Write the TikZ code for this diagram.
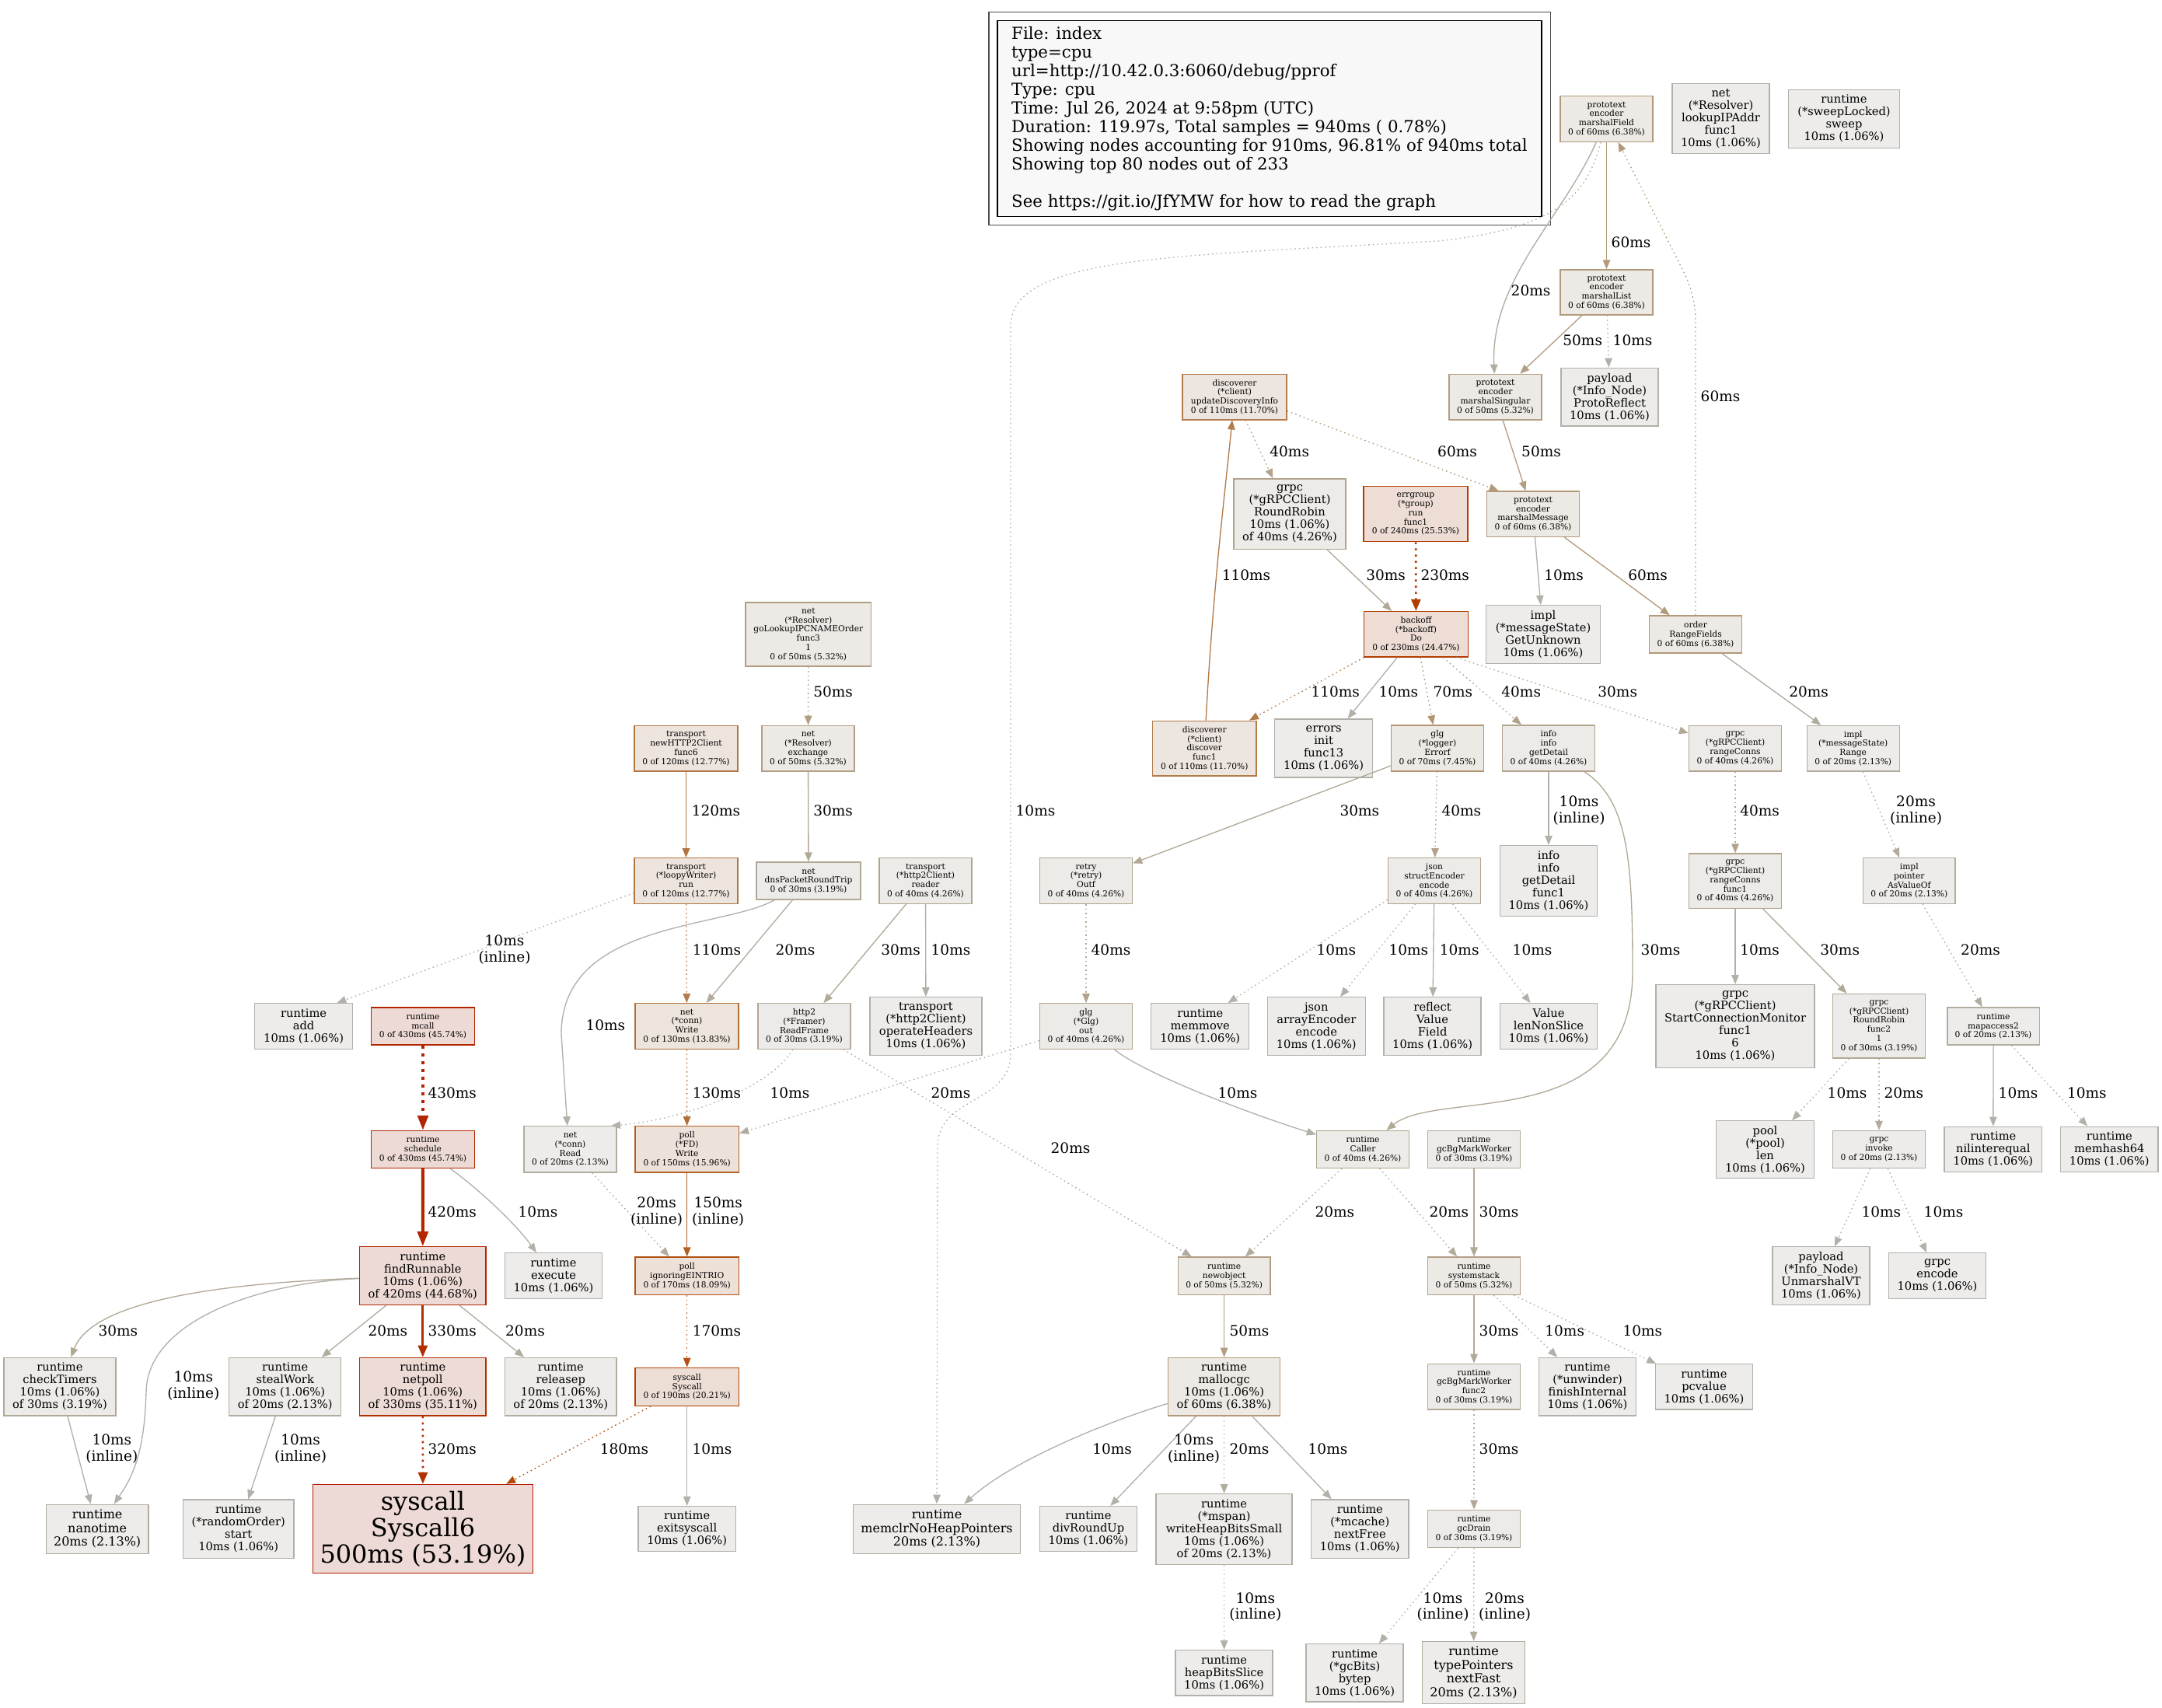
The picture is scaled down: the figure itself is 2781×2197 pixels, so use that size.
\documentclass[tikz,border=0pt]{standalone}
\usepackage{fontspec}
\setmainfont{DejaVu Serif}
\usepackage{tikz}
\usetikzlibrary{arrows.meta}

\definecolor{fg10}{RGB}{178,176,169}
\definecolor{fg20}{RGB}{178,172,159}
\definecolor{fg30}{RGB}{178,168,150}
\definecolor{fg40}{RGB}{178,163,140}
\definecolor{fg50}{RGB}{178,158,131}
\definecolor{fg60}{RGB}{178,153,121}
\definecolor{fg70}{RGB}{178,148,112}
\definecolor{fg110}{RGB}{178,123,74}
\definecolor{fg120}{RGB}{178,117,64}
\definecolor{fg130}{RGB}{178,110,55}
\definecolor{fg150}{RGB}{178,96,36}
\definecolor{fg170}{RGB}{178,81,17}
\definecolor{fg180}{RGB}{178,74,7}
\definecolor{fg190}{RGB}{178,68,0}
\definecolor{fg230}{RGB}{178,61,0}
\definecolor{fg240}{RGB}{178,60,0}
\definecolor{fg320}{RGB}{178,49,0}
\definecolor{fg330}{RGB}{178,48,0}
\definecolor{fg420}{RGB}{178,38,0}
\definecolor{fg430}{RGB}{178,37,0}
\definecolor{fg500}{RGB}{178,30,0}
\definecolor{bg10}{RGB}{237,236,235}
\definecolor{bg20}{RGB}{237,236,234}
\definecolor{bg30}{RGB}{237,235,233}
\definecolor{bg40}{RGB}{237,235,232}
\definecolor{bg50}{RGB}{237,234,230}
\definecolor{bg60}{RGB}{237,233,229}
\definecolor{bg70}{RGB}{237,233,228}
\definecolor{bg110}{RGB}{237,229,223}
\definecolor{bg120}{RGB}{237,228,222}
\definecolor{bg130}{RGB}{237,228,220}
\definecolor{bg150}{RGB}{237,226,218}
\definecolor{bg170}{RGB}{237,224,215}
\definecolor{bg190}{RGB}{237,222,213}
\definecolor{bg230}{RGB}{237,221,213}
\definecolor{bg240}{RGB}{237,221,213}
\definecolor{bg330}{RGB}{237,219,213}
\definecolor{bg420}{RGB}{237,218,213}
\definecolor{bg430}{RGB}{237,218,213}
\definecolor{bg500}{RGB}{237,217,213}
\definecolor{legendbg}{RGB}{248,248,248}

\begin{document}
\begin{tikzpicture}[x=1pt, y=-1pt,
    fn/.style={rectangle, line width=1.3pt, inner sep=0pt, align=center},
    nd/.style={fn, fill=bg#1, draw=fg#1},
    sz/.style 2 args={minimum width=#1, minimum height=#2},
    f0/.style={font=\fontsize{10.67}{11.8}\selectfont},
    fa/.style={font=\fontsize{14.67}{16}\selectfont},
    fb/.style={font=\fontsize{16}{17.6}\selectfont},
    fc/.style={font=\fontsize{32}{34.1}\selectfont},
    call/.style={draw=fg#1, line width=1.33pt, -{Triangle[length=12pt,width=9.5pt]}},
    resid/.style={dash pattern=on 1.6pt off 4pt},
    pw2/.style={line width=2.67pt, -{Triangle[length=15pt,width=12pt]}},
    pw3/.style={line width=4pt, -{Triangle[length=19pt,width=13.5pt]}},
    lbl/.style={font=\fontsize{18.5}{20.3}\selectfont, align=center, inner sep=0pt}
]
\fill[white] (0,0) rectangle (2781,2197);
\useasboundingbox (0,0) rectangle (2781,2197);

\node[draw=black, fill=legendbg, line width=1.3pt, align=left, inner sep=0pt,
      minimum width=700, minimum height=251.5, font=\fontsize{21.3}{24.07}\selectfont]
  (legend) at (1633,152.6) {File: index\\type=cpu\\url=http://10.42.0.3:6060/debug/pprof\\Type: cpu\\Time: Jul 26, 2024 at 9:58pm (UTC)\\Duration: 119.97s, Total samples = 940ms ( 0.78\%)\\Showing nodes accounting for 910ms, 96.81\% of 940ms total\\Showing top 80 nodes out of 233\\\mbox{}\\See https://git.io/JfYMW for how to read the graph};
\draw[line width=1.3pt, draw=black!70] ([xshift=-10.5pt,yshift=11pt]legend.north west) rectangle ([xshift=10.5pt,yshift=-10.5pt]legend.south east);

\node[nd=60, f0, sz={119}{58.5}] (pfField) at (2066.5,153) {prototext\\encoder\\marshalField\\0 of 60ms (6.38\%)};
\node[nd=10, fa, sz={125}{90}] (lookupIP) at (2213.5,152.7) {net\\(*Resolver)\\lookupIPAddr\\func1\\10ms (1.06\%)};
\node[nd=10, fa, sz={142.4}{75}] (sweep) at (2372,152.7) {runtime\\(*sweepLocked)\\sweep\\10ms (1.06\%)};
\node[nd=60, f0, sz={119}{58}] (pfList) at (2066.5,375.9) {prototext\\encoder\\marshalList\\0 of 60ms (6.38\%)};
\node[nd=110, f0, sz={134}{58.5}] (discUpd) at (1588,510.6) {discoverer\\(*client)\\updateDiscoveryInfo\\0 of 110ms (11.70\%)};
\node[nd=50, f0, sz={119}{58.5}] (pfSingular) at (1923.5,510.6) {prototext\\encoder\\marshalSingular\\0 of 50ms (5.32\%)};
\node[nd=10, fa, sz={125}{74.6}] (protoReflect) at (2070.5,510.6) {payload\\(*Info\_Node)\\ProtoReflect\\10ms (1.06\%)};
\node[nd=40, fa, sz={144}{90.6}] (grpcRR) at (1659,661.2) {grpc\\(*gRPCClient)\\RoundRobin\\10ms (1.06\%)\\of 40ms (4.26\%)};
\node[nd=240, f0, sz={134}{70.8}] (errgroup) at (1821,661.2) {errgroup\\(*group)\\run\\func1\\0 of 240ms (25.53\%)};
\node[nd=60, f0, sz={119}{58.5}] (pfMessage) at (1972,661.2) {prototext\\encoder\\marshalMessage\\0 of 60ms (6.38\%)};
\node[nd=50, f0, sz={161.5}{82}] (goLookup) at (1039.8,815.9) {net\\(*Resolver)\\goLookupIPCNAMEOrder\\func3\\1\\0 of 50ms (5.32\%)};
\node[nd=230, f0, sz={134}{58.5}] (backoff) at (1821.5,815.8) {backoff\\(*backoff)\\Do\\0 of 230ms (24.47\%)};
\node[nd=10, fa, sz={147}{75}] (getUnknown) at (1985,816.1) {impl\\(*messageState)\\GetUnknown\\10ms (1.06\%)};
\node[nd=60, f0, sz={119}{48}] (rangeFields) at (2181,816) {order\\RangeFields\\0 of 60ms (6.38\%)};
\node[nd=120, f0, sz={133}{58.5}] (newH2C) at (882.5,962.6) {transport\\newHTTP2Client\\func6\\0 of 120ms (12.77\%)};
\node[nd=50, f0, sz={119}{58.5}] (exchange) at (1039.5,962.6) {net\\(*Resolver)\\exchange\\0 of 50ms (5.32\%)};
\node[nd=110, f0, sz={133.5}{70.8}] (discFunc1) at (1549.3,962.6) {discoverer\\(*client)\\discover\\func1\\0 of 110ms (11.70\%)};
\node[nd=10, fa, sz={126}{75}] (errInit) at (1702.6,962.4) {errors\\init\\func13\\10ms (1.06\%)};
\node[nd=70, f0, sz={119}{59}] (glgErrorf) at (1849,962.4) {glg\\(*logger)\\Errorf\\0 of 70ms (7.45\%)};
\node[nd=40, f0, sz={119}{59}] (getDetail) at (1992,962.4) {info\\info\\getDetail\\0 of 40ms (4.26\%)};
\node[nd=40, f0, sz={119}{58.5}] (rangeConns) at (2232,962.6) {grpc\\(*gRPCClient)\\rangeConns\\0 of 40ms (4.26\%)};
\node[nd=20, f0, sz={119}{58.5}] (msRange) at (2383.7,962.6) {impl\\(*messageState)\\Range\\0 of 20ms (2.13\%)};
\node[nd=120, f0, sz={133}{58.5}] (loopy) at (882.5,1133) {transport\\(*loopyWriter)\\run\\0 of 120ms (12.77\%)};
\node[nd=30, f0, sz={134}{48}] (dnsRT) at (1040,1133) {net\\dnsPacketRoundTrip\\0 of 30ms (3.19\%)};
\node[nd=40, f0, sz={119}{58.5}] (h2Reader) at (1190.5,1133) {transport\\(*http2Client)\\reader\\0 of 40ms (4.26\%)};
\node[nd=40, f0, sz={119}{58.5}] (retryOutf) at (1397,1133) {retry\\(*retry)\\Outf\\0 of 40ms (4.26\%)};
\node[nd=40, f0, sz={119}{58.5}] (structEnc) at (1845,1133) {json\\structEncoder\\encode\\0 of 40ms (4.26\%)};
\node[nd=10, fa, sz={125.5}{90.6}] (getDetailF1) at (1992,1133) {info\\info\\getDetail\\func1\\10ms (1.06\%)};
\node[nd=40, f0, sz={119}{70.4}] (rangeConnsF1) at (2232,1133.2) {grpc\\(*gRPCClient)\\rangeConns\\func1\\0 of 40ms (4.26\%)};
\node[nd=20, f0, sz={118.4}{58.5}] (asValueOf) at (2455.8,1133) {impl\\pointer\\AsValueOf\\0 of 20ms (2.13\%)};
\node[nd=10, fa, sz={126}{58.5}] (rtAdd) at (390.6,1320) {runtime\\add\\10ms (1.06\%)};
\node[nd=430, f0, sz={133.5}{48.2}] (mcall) at (544,1320) {runtime\\mcall\\0 of 430ms (45.74\%)};
\node[nd=130, f0, sz={133}{58.5}] (connWrite) at (883.5,1320) {net\\(*conn)\\Write\\0 of 130ms (13.83\%)};
\node[nd=30, f0, sz={119}{58.5}] (readFrame) at (1034.5,1320) {http2\\(*Framer)\\ReadFrame\\0 of 30ms (3.19\%)};
\node[nd=10, fa, sz={144}{74.6}] (operateHdr) at (1191,1320) {transport\\(*http2Client)\\operateHeaders\\10ms (1.06\%)};
\node[nd=40, f0, sz={119}{58.5}] (glgOut) at (1397,1320) {glg\\(*Glg)\\out\\0 of 40ms (4.26\%)};
\node[nd=10, fa, sz={126}{58.5}] (memmove) at (1543.8,1320) {runtime\\memmove\\10ms (1.06\%)};
\node[nd=10, fa, sz={126}{74.6}] (arrayEnc) at (1693.3,1320) {json\\arrayEncoder\\encode\\10ms (1.06\%)};
\node[nd=10, fa, sz={125}{74.6}] (reflectField) at (1842.6,1320) {reflect\\Value\\Field\\10ms (1.06\%)};
\node[nd=10, fa, sz={125.5}{58.5}] (lenNonSlice) at (1992,1320) {Value\\lenNonSlice\\10ms (1.06\%)};
\node[nd=10, fa, sz={204}{106.6}] (startConnMon) at (2232,1320) {grpc\\(*gRPCClient)\\StartConnectionMonitor\\func1\\6\\10ms (1.06\%)};
\node[nd=30, f0, sz={118.7}{82.6}] (rrFunc2) at (2417,1319.7) {grpc\\(*gRPCClient)\\RoundRobin\\func2\\1\\0 of 30ms (3.19\%)};
\node[nd=20, f0, sz={118.3}{48}] (mapaccess) at (2564,1320) {runtime\\mapaccess2\\0 of 20ms (2.13\%)};
\node[nd=430, f0, sz={133.5}{48}] (schedule) at (544,1478.4) {runtime\\schedule\\0 of 430ms (45.74\%)};
\node[nd=20, f0, sz={119}{59.3}] (connRead) at (733.5,1478.4) {net\\(*conn)\\Read\\0 of 20ms (2.13\%)};
\node[nd=150, f0, sz={133.4}{59.3}] (fdWrite) at (883.7,1478.4) {poll\\(*FD)\\Write\\0 of 150ms (15.96\%)};
\node[nd=40, f0, sz={119}{48}] (caller) at (1753,1478.4) {runtime\\Caller\\0 of 40ms (4.26\%)};
\node[nd=30, f0, sz={118.4}{48}] (gcBgMark) at (1896,1478.4) {runtime\\gcBgMarkWorker\\0 of 30ms (3.19\%)};
\node[nd=10, fa, sz={125.4}{73.8}] (poolLen) at (2270.5,1478.6) {pool\\(*pool)\\len\\10ms (1.06\%)};
\node[nd=20, f0, sz={118.7}{48}] (invoke) at (2417,1478.4) {grpc\\invoke\\0 of 20ms (2.13\%)};
\node[nd=10, fa, sz={125.5}{58.3}] (nilIface) at (2563.8,1478.4) {runtime\\nilinterequal\\10ms (1.06\%)};
\node[nd=10, fa, sz={125.5}{58.3}] (memhash) at (2713.3,1478.4) {runtime\\memhash64\\10ms (1.06\%)};
\node[nd=420, fa, sz={162.5}{74.8}] (findRun) at (543.8,1641.2) {runtime\\findRunnable\\10ms (1.06\%)\\of 420ms (44.68\%)};
\node[nd=10, fa, sz={125}{58.8}] (execute) at (712,1641.2) {runtime\\execute\\10ms (1.06\%)};
\node[nd=170, f0, sz={133.4}{48.4}] (eintr) at (883.7,1641.2) {poll\\ignoringEINTRIO\\0 of 170ms (18.09\%)};
\node[nd=50, f0, sz={118.8}{48.4}] (newobj) at (1574.6,1641.2) {runtime\\newobject\\0 of 50ms (5.32\%)};
\node[nd=50, f0, sz={118.8}{48.4}] (sysstack) at (1896,1641.2) {runtime\\systemstack\\0 of 50ms (5.32\%)};
\node[nd=10, fa, sz={125}{74.8}] (unmarshalVT) at (2342.5,1641.2) {payload\\(*Info\_Node)\\UnmarshalVT\\10ms (1.06\%)};
\node[nd=10, fa, sz={125.5}{58.8}] (grpcEncode) at (2492,1641.2) {grpc\\encode\\10ms (1.06\%)};
\node[nd=30, fa, sz={144.2}{74.7}] (checkTimers) at (77,1783.7) {runtime\\checkTimers\\10ms (1.06\%)\\of 30ms (3.19\%)};
\node[nd=20, fa, sz={144.2}{74.7}] (stealWork) at (366.7,1783.7) {runtime\\stealWork\\10ms (1.06\%)\\of 20ms (2.13\%)};
\node[nd=330, fa, sz={162.5}{74.7}] (netpoll) at (543.8,1783.7) {runtime\\netpoll\\10ms (1.06\%)\\of 330ms (35.11\%)};
\node[nd=20, fa, sz={143.3}{74.7}] (releasep) at (721.3,1783.7) {runtime\\releasep\\10ms (1.06\%)\\of 20ms (2.13\%)};
\node[nd=190, f0, sz={133.4}{48.9}] (syscall) at (883.7,1783.8) {syscall\\Syscall\\0 of 190ms (20.21\%)};
\node[nd=60, fa, sz={143.7}{74.7}] (mallocgc) at (1574.6,1783.7) {runtime\\mallocgc\\10ms (1.06\%)\\of 60ms (6.38\%)};
\node[nd=30, f0, sz={118.4}{58.8}] (gcBgMarkF2) at (1896,1783.6) {runtime\\gcBgMarkWorker\\func2\\0 of 30ms (3.19\%)};
\node[nd=10, fa, sz={125.5}{74.7}] (unwinder) at (2042,1783.7) {runtime\\(*unwinder)\\finishInternal\\10ms (1.06\%)};
\node[nd=10, fa, sz={125.5}{58.3}] (pcvalue) at (2192,1783.9) {runtime\\pcvalue\\10ms (1.06\%)};
\node[nd=20, fb, sz={131.6}{63}] (nanotime) at (125.2,1966.7) {runtime\\nanotime\\20ms (2.13\%)};
\node[nd=10, fa, sz={142.8}{75.3}] (randOrder) at (306.7,1966.7) {runtime\\(*randomOrder)\\start\\10ms (1.06\%)};
\node[nd=500, fc, sz={282.6}{114.2}] (syscall6) at (544,1966.5) {syscall\\Syscall6\\500ms (53.19\%)};
\node[nd=10, fa, sz={125.4}{57.8}] (exitsys) at (883.7,1966.5) {runtime\\exitsyscall\\10ms (1.06\%)};
\node[nd=20, fb, sz={215.6}{63}] (memclr) at (1205,1966.7) {runtime\\memclrNoHeapPointers\\20ms (2.13\%)};
\node[nd=10, fa, sz={125.5}{57.8}] (divRound) at (1400,1966.5) {runtime\\divRoundUp\\10ms (1.06\%)};
\node[nd=20, fa, sz={175}{90.7}] (writeHBS) at (1574.6,1967) {runtime\\(*mspan)\\writeHeapBitsSmall\\10ms (1.06\%)\\of 20ms (2.13\%)};
\node[nd=10, fa, sz={125.4}{75.3}] (nextFree) at (1749.3,1966.7) {runtime\\(*mcache)\\nextFree\\10ms (1.06\%)};
\node[nd=30, f0, sz={118.4}{48.4}] (gcDrain) at (1896,1966.5) {runtime\\gcDrain\\0 of 30ms (3.19\%)};
\node[nd=10, fa, sz={125}{58.3}] (heapBits) at (1574.6,2151.8) {runtime\\heapBitsSlice\\10ms (1.06\%)};
\node[nd=10, fa, sz={125}{74.3}] (bytep) at (1742.6,2151.8) {runtime\\(*gcBits)\\bytep\\10ms (1.06\%)};
\node[nd=20, fb, sz={132}{80}] (nextFast) at (1895.5,2151.5) {runtime\\typePointers\\nextFast\\20ms (2.13\%)};

\draw[call=60] (pfField) -- (pfList) node[lbl] at (2098,311.5) {60ms};
\draw[call=20] (pfField) .. controls (2010,280) and (1917,360) .. (pfSingular) node[lbl] at (1969,374.2) {20ms};
\draw[call=10, resid] (pfField) .. controls (2040,260) and (1990,295) .. (1850,310) .. controls (1500,330) and (1300,330) .. (1300,420) -- (1300,1355) .. controls (1300,1420) and (1206,1410) .. (1206,1475) -- (memclr) node[lbl] at (1332,1043) {10ms};
\draw[call=50] (pfList) -- (pfSingular) node[lbl] at (2035.7,438) {50ms};
\draw[call=10, resid] (pfList) -- (protoReflect) node[lbl] at (2100,438) {10ms};
\draw[call=50] (pfSingular) -- (pfMessage) node[lbl] at (1982.5,580.5) {50ms};
\draw[call=40, resid] (discUpd) -- (grpcRR) node[lbl] at (1658.7,580.5) {40ms};
\draw[call=60, resid] (discUpd.-15) -- (pfMessage.146) node[lbl] at (1874.5,580.5) {60ms};
\draw[call=60, resid, rounded corners=30pt] (rangeFields) -- (2181,380) -- (pfField) node[lbl] at (2213,509.7) {60ms};
\draw[call=10] (pfMessage) -- (getUnknown) node[lbl] at (2011.6,739.4) {10ms};
\draw[call=60] (pfMessage) -- (rangeFields) node[lbl] at (2119.6,739.4) {60ms};
\draw[call=230, pw2, dash pattern=on 2.7pt off 5.3pt] (errgroup) -- (backoff) node[lbl] at (1858.7,739.4) {230ms};
\draw[call=30] (grpcRR) -- (backoff) node[lbl] at (1782.6,739.4) {30ms};
\draw[call=110] (discFunc1) .. controls (1560,760) and (1575,640) .. (discUpd) node[lbl] at (1603,739.4) {110ms};
\draw[call=110, resid] (backoff.-156) -- (discFunc1.32) node[lbl] at (1717.8,889.5) {110ms};
\draw[call=10] (backoff) -- (errInit) node[lbl] at (1798.9,889.5) {10ms};
\draw[call=70, resid] (backoff) -- (glgErrorf) node[lbl] at (1868.8,889.5) {70ms};
\draw[call=40, resid] (backoff) -- (getDetail) node[lbl] at (1956.7,889.5) {40ms};
\draw[call=30, resid] (backoff.-30) -- (rangeConns) node[lbl] at (2080.7,889.5) {30ms};
\draw[call=20] (rangeFields) -- (msRange) node[lbl] at (2326.6,889.5) {20ms};
\draw[call=50, resid] (goLookup) -- (exchange) node[lbl] at (1071.6,889.5) {50ms};
\draw[call=120] (newH2C) -- (loopy) node[lbl] at (921,1043) {120ms};
\draw[call=30] (exchange) -- (dnsRT) node[lbl] at (1071.6,1043) {30ms};
\draw[call=10, resid] (loopy.193) -- (rtAdd.35) node[lbl] at (649,1221.5) {10ms\\(inline)};
\draw[call=110, resid] (loopy) -- (connWrite) node[lbl] at (922,1221.7) {110ms};
\draw[call=20] (dnsRT) -- (connWrite) node[lbl] at (1023,1221.7) {20ms};
\draw[call=10] (dnsRT) .. controls (930,1195) and (722,1185) .. (722,1330) -- (connRead.97) node[lbl] at (778.8,1319) {10ms};
\draw[call=30] (h2Reader) -- (readFrame) node[lbl] at (1158.7,1221.7) {30ms};
\draw[call=10] (h2Reader) -- (operateHdr) node[lbl] at (1223,1221.7) {10ms};
\draw[call=10, resid] (readFrame.-116) .. controls (990,1400) and (880,1440) .. (connRead.30) node[lbl] at (1016,1405.8) {10ms};
\draw[call=20, resid] (readFrame) -- (newobj) node[lbl] at (1377,1477) {20ms};
\draw[call=30] (glgErrorf) -- (retryOutf) node[lbl] at (1748.8,1043) {30ms};
\draw[call=40, resid] (glgErrorf) -- (structEnc) node[lbl] at (1879.8,1043) {40ms};
\draw[call=10] (getDetail) -- (getDetailF1) node[lbl] at (2031,1042.6) {10ms\\(inline)};
\draw[call=30] (getDetail) .. controls (2095,1030) and (2100,1110) .. (2100,1250) .. controls (2100,1460) and (1850,1400) .. (caller) node[lbl] at (2136,1221.7) {30ms};
\draw[call=40, resid] (retryOutf) -- (glgOut) node[lbl] at (1429,1221.7) {40ms};
\draw[call=20, resid] (glgOut) -- (fdWrite) node[lbl] at (1223,1405.8) {20ms};
\draw[call=10] (glgOut) .. controls (1470,1380) and (1600,1430) .. (caller) node[lbl] at (1592,1405.8) {10ms};
\draw[call=10, resid] (structEnc.-158) -- (memmove.40) node[lbl] at (1718.8,1221.7) {10ms};
\draw[call=10, resid] (structEnc) -- (arrayEnc) node[lbl] at (1811.8,1221.7) {10ms};
\draw[call=10] (structEnc) -- (reflectField) node[lbl] at (1877.2,1221.7) {10ms};
\draw[call=10, resid] (structEnc) -- (lenNonSlice) node[lbl] at (1971,1221.7) {10ms};
\draw[call=40, resid] (rangeConns) -- (rangeConnsF1) node[lbl] at (2263.6,1043) {40ms};
\draw[call=20, resid] (msRange) -- (asValueOf) node[lbl] at (2464.5,1042.6) {20ms\\(inline)};
\draw[call=10] (rangeConnsF1) -- (startConnMon) node[lbl] at (2263.6,1221.7) {10ms};
\draw[call=30] (rangeConnsF1) -- (rrFunc2) node[lbl] at (2366.7,1221.7) {30ms};
\draw[call=20, resid] (asValueOf) -- (mapaccess) node[lbl] at (2547.5,1221.7) {20ms};
\draw[call=10, resid] (rrFunc2) -- (poolLen) node[lbl] at (2376,1405.8) {10ms};
\draw[call=20, resid] (rrFunc2) -- (invoke) node[lbl] at (2448.8,1405.8) {20ms};
\draw[call=10] (mapaccess) -- (nilIface) node[lbl] at (2596,1405.8) {10ms};
\draw[call=10, resid] (mapaccess) -- (memhash) node[lbl] at (2684.3,1405.8) {10ms};
\draw[call=10, resid] (invoke) -- (unmarshalVT) node[lbl] at (2419.8,1558.7) {10ms};
\draw[call=10, resid] (invoke) -- (grpcEncode) node[lbl] at (2500,1558.7) {10ms};
\draw[call=430, pw3, dash pattern=on 4pt off 6pt] (mcall) -- (schedule) node[lbl] at (581.7,1405.8) {430ms};
\draw[call=420, pw3] (schedule) -- (findRun) node[lbl] at (581.7,1558.7) {420ms};
\draw[call=10] (schedule) .. controls (610,1525) and (660,1570) .. (execute) node[lbl] at (692,1558.7) {10ms};
\draw[call=30] (findRun) .. controls (300,1650) and (120,1670) .. (checkTimers) node[lbl] at (151.8,1711.5) {30ms};
\draw[call=10] (findRun) .. controls (330,1650) and (190,1700) .. (188,1790) .. controls (186,1870) and (170,1900) .. (nanotime) node[lbl] at (248.8,1782.7) {10ms\\(inline)};
\draw[call=20] (findRun) -- (stealWork) node[lbl] at (498.9,1711.5) {20ms};
\draw[call=330, pw2] (findRun) -- (netpoll) node[lbl] at (581.7,1711.5) {330ms};
\draw[call=20] (findRun) -- (releasep) node[lbl] at (675.5,1711.5) {20ms};
\draw[call=10] (checkTimers) -- (nanotime) node[lbl] at (143.8,1863.5) {10ms\\(inline)};
\draw[call=10] (stealWork) -- (randOrder) node[lbl] at (386.6,1863.5) {10ms\\(inline)};
\draw[call=320, pw2, dash pattern=on 2.7pt off 5.3pt] (netpoll) -- (syscall6) node[lbl] at (581.7,1863.3) {320ms};
\draw[call=180, resid] (syscall) -- (syscall6) node[lbl] at (803,1863.3) {180ms};
\draw[call=10] (syscall) -- (exitsys) node[lbl] at (916,1863.3) {10ms};
\draw[call=150] (fdWrite) -- (eintr) node[lbl] at (923.7,1558.7) {150ms\\(inline)};
\draw[call=20, resid] (connRead) -- (eintr) node[lbl] at (844.6,1558.7) {20ms\\(inline)};
\draw[call=170, resid] (eintr) -- (syscall) node[lbl] at (922,1712) {170ms};
\draw[call=130, resid] (connWrite) -- (fdWrite) node[lbl] at (922,1405.8) {130ms};
\draw[call=20, resid] (caller) -- (newobj) node[lbl] at (1716.8,1558.7) {20ms};
\draw[call=20, resid] (caller) -- (sysstack) node[lbl] at (1863.8,1558.7) {20ms};
\draw[call=30] (gcBgMark) -- (sysstack) node[lbl] at (1928,1558.7) {30ms};
\draw[call=50] (newobj) -- (mallocgc) node[lbl] at (1607,1711.9) {50ms};
\draw[call=30] (sysstack) -- (gcBgMarkF2) node[lbl] at (1928,1711.9) {30ms};
\draw[call=10, resid] (sysstack) -- (unwinder) node[lbl] at (2012.7,1711.9) {10ms};
\draw[call=10, resid] (sysstack) -- (pcvalue) node[lbl] at (2112.8,1711.9) {10ms};
\draw[call=10] (mallocgc) .. controls (1420,1830) and (1300,1880) .. (memclr) node[lbl] at (1430.7,1863.3) {10ms};
\draw[call=10] (mallocgc) -- (divRound) node[lbl] at (1535.7,1863.5) {10ms\\(inline)};
\draw[call=20, resid] (mallocgc) -- (writeHBS) node[lbl] at (1607,1863.3) {20ms};
\draw[call=10] (mallocgc) -- (nextFree) node[lbl] at (1708,1863.3) {10ms};
\draw[call=30, resid] (gcBgMarkF2) -- (gcDrain) node[lbl] at (1928,1863.3) {30ms};
\draw[call=10, resid] (writeHBS) -- (heapBits) node[lbl] at (1614.8,2066.8) {10ms\\(inline)};
\draw[call=10, resid] (gcDrain) -- (bytep) node[lbl] at (1856,2066.8) {10ms\\(inline)};
\draw[call=20, resid] (gcDrain) -- (nextFast) node[lbl] at (1935.5,2066.8) {20ms\\(inline)};
\end{tikzpicture}
\end{document}
